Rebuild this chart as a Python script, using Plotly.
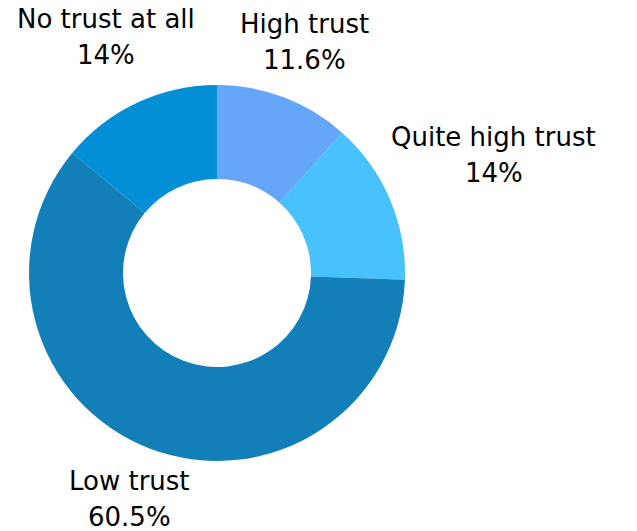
import math
import plotly.graph_objects as go

labels = ["High trust", "Quite high trust", "Low trust", "No trust at all"]
values = [11.6, 14, 60.5, 14]
value_labels = ["11.6%", "14%", "60.5%", "14%"]
colors = ["#66a6f8", "#48c2fc", "#127fb8", "#028fd6"]

W, H = 637, 531
cx, cy, r = 217, 273, 188
FONT = "DejaVu Sans"
FS = 26
LINE_GAP = 36
GAP = 6

# approximate DejaVu Sans advance widths (em) for label layout
CW = {" ": .318, "%": .950, ".": .318, "H": .752, "Q": .787, "L": .557, "N": .748,
      "a": .613, "e": .615, "g": .635, "h": .634, "i": .278, "l": .278, "o": .612,
      "r": .411, "s": .521, "t": .392, "u": .634, "w": .818}


def text_w(s):
    return sum(CW.get(c, .636) for c in s) * FS


fig = go.Figure(go.Pie(
    labels=labels,
    values=values,
    hole=0.5,
    sort=False,
    direction="clockwise",
    rotation=0,
    marker=dict(colors=colors, line=dict(width=0)),
    textinfo="none",
    domain=dict(x=[(cx - r) / W, (cx + r) / W],
                y=[1 - (cy + r) / H, 1 - (cy - r) / H]),
    showlegend=False,
    hoverinfo="label+value",
))

total = sum(values)
cum = 0
for lab, v, vl in zip(labels, values, value_labels):
    mid = (cum + v / 2) / total * 2 * math.pi
    cum += v
    dx, dy = math.sin(mid), -math.cos(mid)
    w = max(text_w(lab), text_w(vl))
    h = 64
    d = r + GAP + abs(dx) * w / 2 + abs(dy) * h / 2
    px, py = cx + d * dx, cy + d * dy
    # keep the block inside the page
    py = min(py, H - 14 - LINE_GAP / 2)
    for txt, yy in ((lab, py - LINE_GAP / 2), (vl, py + LINE_GAP / 2)):
        fig.add_annotation(
            x=px / W, y=1 - yy / H, xref="paper", yref="paper",
            text=txt, showarrow=False, xanchor="center", yanchor="middle",
            font=dict(family=FONT, size=FS, color="#000000"),
        )

fig.update_layout(
    width=W, height=H,
    margin=dict(l=0, r=0, t=0, b=0),
    paper_bgcolor="white",
    plot_bgcolor="white",
)
fig.write_html("out.html")
